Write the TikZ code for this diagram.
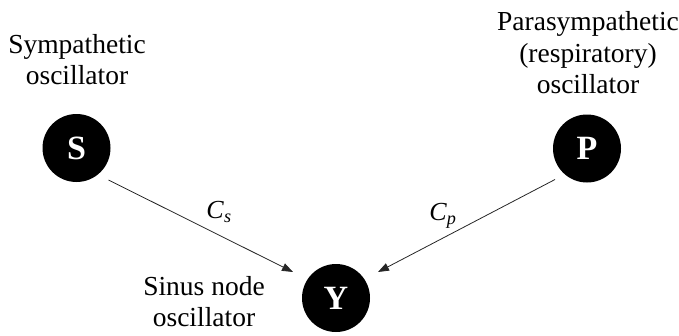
\documentclass[tikz,border=0pt]{standalone}
\usepackage{fontspec}
\setmainfont{Liberation Serif}
\usetikzlibrary{arrows.meta,calc}
\begin{document}
\begin{tikzpicture}[x=1pt,y=-1pt,
  osc/.style={circle, fill=black, minimum size=68pt, inner sep=0pt, text=white,
    font=\fontsize{34}{34}\selectfont\bfseries},
  lbl/.style={align=center, inner sep=0pt, font=\fontsize{27.5}{31.5}\selectfont},
  coup/.style={-{Triangle[length=11pt,width=8pt]}, line width=0.8pt, draw=black!85},
  clbl/.style={inner sep=0pt, font=\fontsize{26}{26}\selectfont}]
\useasboundingbox (0,0) rectangle (679,335);
\node[osc] (S) at (76.5,148) {S};
\node[osc] (P) at (587,148.5) {P};
\node[osc] (Y) at (336,298) {Y};
\node[lbl] (ls) at (77,59.6) {Sympathetic\\oscillator};
\node[lbl] (lp) at (588,52.6) {Parasympathetic\\(respiratory)\\oscillator};
\node[lbl] (ly) at (204,301.6) {Sinus node\\oscillator};
\coordinate (s0) at ($(S)+(32,32)$);
\coordinate (s1) at ($(Y)+(-43,-26)$);
\coordinate (p0) at ($(P)+(-32,31)$);
\coordinate (p1) at ($(Y)+(42,-26)$);
\draw[coup] (s0) -- (s1);
\draw[coup] (p0) -- (p1);
\node[clbl] (cs) at (219,212) {\textit{C}\textsubscript{\textit{s}}};
\node[clbl] (cp) at (443,216) {\textit{C}\textsubscript{\textit{p}}};
\end{tikzpicture}
\end{document}
